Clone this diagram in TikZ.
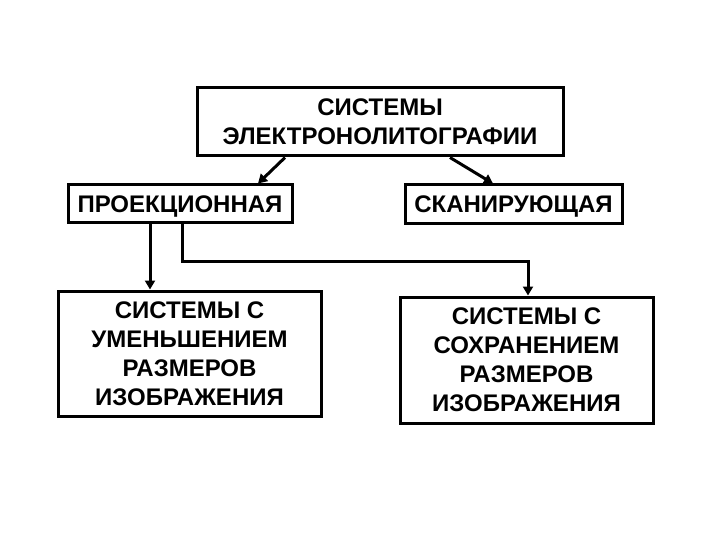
\documentclass[tikz,border=0pt]{standalone}
\usepackage{fontspec}
\setmainfont{Liberation Sans}
\usetikzlibrary{arrows.meta}
\begin{document}
\begin{tikzpicture}[x=1pt,y=-1pt,
  box/.style={draw=black,line width=3pt,inner sep=0pt,align=center,
    font=\bfseries\fontsize{24}{29}\selectfont},
  arr/.style={line width=3pt,-{Triangle[length=9pt,width=10pt]}}]
\useasboundingbox[fill=white] (0,0) rectangle (720,540);
\node[box,minimum width=366pt,minimum height=68pt] (top) at (380,122) {СИСТЕМЫ\\ЭЛЕКТРОНОЛИТОГРАФИИ};
\node[box,minimum width=224pt,minimum height=38pt,text depth=0pt] (proj) at (180,204) {ПРОЕКЦИОННАЯ};
\node[box,minimum width=217pt,minimum height=39pt,text depth=0pt] (scan) at (513.5,204.5) {СКАНИРУЮЩАЯ};
\node[box,minimum width=263pt,minimum height=125pt] (bl) at (189.5,353.5) {СИСТЕМЫ С\\УМЕНЬШЕНИЕМ\\РАЗМЕРОВ\\ИЗОБРАЖЕНИЯ};
\node[box,minimum width=253pt,minimum height=126pt] (br) at (526.5,360) {СИСТЕМЫ С\\СОХРАНЕНИЕМ\\РАЗМЕРОВ\\ИЗОБРАЖЕНИЯ};
\draw[arr] ([xshift=-95pt]top.south) -- ([xshift=78pt]proj.north);
\draw[arr] ([xshift=70pt]top.south) -- ([xshift=-20.5pt]scan.north);
\draw[arr] ([xshift=-30pt]proj.south) -- ([xshift=-30pt]proj.south |- bl.north);
\draw[arr] ([xshift=2pt]proj.south) -- ++(0,37) -| ([xshift=1.5pt]br.north);
\end{tikzpicture}
\end{document}
